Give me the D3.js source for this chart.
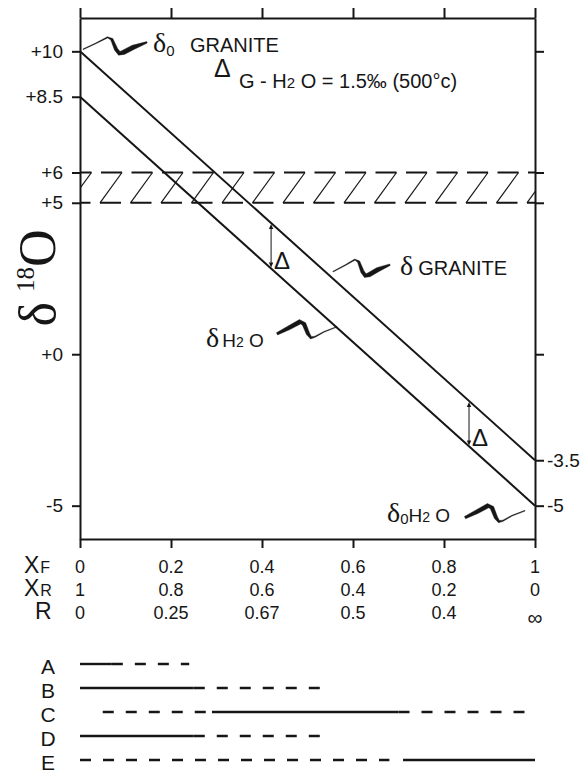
<!DOCTYPE html>
<html>
<head>
<meta charset="utf-8">
<style>
  body { margin: 0; background: #fff; }
  text { font-family: "Liberation Sans", Arial, sans-serif; fill: #161616; }
  .serif { font-family: "Liberation Serif", "Times New Roman", serif; }
</style>
</head>
<body>
<svg width="583" height="774"></svg>
<script src="https://cdn.jsdelivr.net/npm/d3@7"></script>
<script>
// values
var xTicks = [0, 0.2, 0.4, 0.6, 0.8, 1];
var xfLabels = ["0", "0.2", "0.4", "0.6", "0.8", "1"];
var xrLabels = ["1", "0.8", "0.6", "0.4", "0.2", "0"];
var rLabels = ["0", "0.25", "0.67", "0.5", "0.4", "∞"];
var leftTicks = [10, 8.5, 6, 5, 0, -5];
var leftLabels = ["+10", "+8.5", "+6", "+5", "+0", "-5"];
var rightTicks = [10, 6, 5, 0, -3.5, -5];
var rightLabels = ["", "", "", "", "-3.5", "-5"];
var granite = [[0, 10], [1, -3.5]];
var water = [[0, 8.5], [1, -5]];
var band = [5, 6];
var deltaAt = [0.42, 0.855];
var legendNames = ["A", "B", "C", "D", "E"];
var legendSolid = [[[0, 0.07]], [[0, 0.25]], [[0.29, 0.7]], [[0, 0.25]], [[0.71, 1]]];
var legendDash = [[[0.07, 0.24]], [[0.25, 0.54]], [[0.05, 0.29], [0.7, 1]], [[0.25, 0.53]], [[0, 0.68]]];

var svg = d3.select("svg");
var ink = "#161616";

var x = d3.scaleLinear().domain([0, 1]).range([80, 535]);
var y = d3.scaleLinear().domain([-6.1, 11.1]).range([539, 18]);

// value of a straight line at xv
function at(line, xv) {
  return d3.interpolateNumber(line[0][1], line[1][1])((xv - line[0][0]) / (line[1][0] - line[0][0]));
}

svg.append("clipPath").attr("id", "frame")
  .append("rect")
  .attr("x", x(0)).attr("y", y.range()[1])
  .attr("width", x(1) - x(0)).attr("height", y.range()[0] - y.range()[1]);

// hatched band between +5 and +6 (Z shapes)
var hatch = svg.append("g")
  .attr("clip-path", "url(#frame)")
  .attr("fill", "none")
  .attr("stroke", ink);
var step = 30.5, lean = 22, bar = 21, first = x(0) + 20;
var zs = d3.range(-1, 15);
hatch.selectAll("path.bar")
  .data(zs)
  .enter().append("path")
  .attr("class", "bar")
  .attr("stroke-width", 2)
  .attr("d", function(i) {
    var b = first + i * step;
    return "M" + (b + lean - bar) + "," + y(band[1]) + "H" + (b + lean) +
      "M" + b + "," + y(band[0]) + "H" + (b + bar);
  });
hatch.selectAll("path.diag")
  .data(zs)
  .enter().append("path")
  .attr("class", "diag")
  .attr("stroke-width", 1.2)
  .attr("d", function(i) {
    var b = first + i * step;
    return "M" + (b + lean) + "," + y(band[1]) + "L" + b + "," + y(band[0]);
  });

// the two lines
var line = d3.line()
  .x(function(d) { return x(d[0]); })
  .y(function(d) { return y(d[1]); });

[granite, water].forEach(function(s) {
  svg.append("path")
    .datum(s)
    .attr("fill", "none")
    .attr("stroke", ink)
    .attr("stroke-width", 2)
    .attr("d", line);
});

// axes
function styleAxis(g) {
  g.selectAll(".domain").attr("stroke", ink).attr("stroke-width", 2);
  g.selectAll(".tick line").attr("stroke", ink).attr("stroke-width", 2);
  g.selectAll(".tick text").attr("fill", ink).attr("font-size", 19)
    .attr("font-family", "Liberation Sans, Arial, sans-serif");
}

svg.append("g")
  .attr("transform", "translate(0," + y.range()[1] + ")")
  .call(d3.axisTop(x).tickValues(xTicks).tickSize(10).tickSizeOuter(0).tickFormat(function() { return ""; }))
  .call(styleAxis);

svg.append("g")
  .attr("transform", "translate(0," + y.range()[0] + ")")
  .call(d3.axisBottom(x).tickValues(xTicks).tickSize(9).tickSizeOuter(0).tickFormat(function() { return ""; }))
  .call(styleAxis);

svg.append("g")
  .attr("transform", "translate(" + x(0) + ",0)")
  .call(d3.axisLeft(y).tickValues(leftTicks).tickSize(8).tickSizeOuter(0).tickPadding(9)
    .tickFormat(function(d, i) { return leftLabels[i]; }))
  .call(styleAxis);

svg.append("g")
  .attr("transform", "translate(" + x(1) + ",0)")
  .call(d3.axisRight(y).tickValues(rightTicks).tickSize(9).tickSizeOuter(0).tickPadding(3)
    .tickFormat(function(d, i) { return rightLabels[i]; }))
  .call(styleAxis);

// y title
var yt = svg.append("text")
  .attr("class", "serif")
  .attr("transform", "translate(55,278) rotate(-90)")
  .attr("text-anchor", "middle")
  .attr("font-size", 52);
yt.append("tspan").text("δ");
yt.append("tspan").attr("font-size", 25).attr("dx", 10).attr("dy", -21).text("18");
yt.append("tspan").attr("dy", 21).text("O");

// three rows under the x axis
var rows = [
  { main: "X", sub: "F", labels: xfLabels, base: 573 },
  { main: "X", sub: "R", labels: xrLabels, base: 596 },
  { main: "R", sub: "", labels: rLabels, base: 619 }
];
rows.forEach(function(r) {
  var t = svg.append("text").attr("x", r.sub ? 24 : 35).attr("y", r.base).attr("font-size", 23);
  t.append("tspan").text(r.main);
  if (r.sub) t.append("tspan").attr("font-size", 16).attr("dx", 1).text(r.sub);
  svg.append("g").selectAll("text")
    .data(r.labels)
    .enter().append("text")
    .attr("x", function(d, i) { return x(xTicks[i]); })
    .attr("y", function(d) { return d === "∞" ? r.base + 6 : r.base; })
    .attr("text-anchor", "middle")
    .attr("font-size", function(d) { return d === "∞" ? 21 : 18; })
    .text(function(d) { return d; });
});

// delta arrows between the lines
deltaAt.forEach(function(xv) {
  var px = x(xv), top = y(at(granite, xv)) + 1, bot = y(at(water, xv)) - 1;
  svg.append("line")
    .attr("x1", px).attr("x2", px).attr("y1", top + 3).attr("y2", bot - 3)
    .attr("stroke", ink).attr("stroke-width", 1);
  svg.append("path")
    .attr("d", "M" + px + "," + top + "l-2.2,5h4.4z M" + px + "," + bot + "l-2.2,-5h4.4z")
    .attr("fill", ink);
  svg.append("text")
    .attr("x", px + 3).attr("y", bot + 1)
    .attr("font-size", 24)
    .text("Δ");
});

// squiggly leaders, drawn as a brush stroke of varying width
var squigPts = [[0, 0], [12, -6], [23, -12], [27, -10], [31, 0], [34, 4], [38, 3], [47, -2], [60, -7]];
function squiggle(x0, y0, w, thickStart) {
  var k = w / 60;
  var pts = squigPts.map(function(d) { return [x0 + d[0] * k, y0 + d[1]]; });
  var wid = thickStart
    ? [2.5, 4, 4.5, 4, 3.5, 2.5, 1.2, 0.8, 0.7]
    : [0.7, 0.8, 1.2, 2.5, 3.5, 4, 4.5, 4.5, 1.5];
  var left = [], right = [];
  pts.forEach(function(p, i) {
    var a = pts[Math.max(i - 1, 0)], b = pts[Math.min(i + 1, pts.length - 1)];
    var dx = b[0] - a[0], dy = b[1] - a[1], len = Math.sqrt(dx * dx + dy * dy);
    var nx = -dy / len * wid[i] / 2, ny = dx / len * wid[i] / 2;
    left.push([p[0] + nx, p[1] + ny]);
    right.push([p[0] - nx, p[1] - ny]);
  });
  svg.append("path")
    .attr("d", "M" + left.concat(right.reverse()).join("L") + "Z")
    .attr("fill", ink)
    .attr("stroke", ink)
    .attr("stroke-width", 0.4)
    .attr("stroke-linejoin", "round");
}

// δ0 granite
squiggle(x(0) + 3, y(granite[0][1]) - 2, 64, false);
var t1 = svg.append("text").attr("x", 153).attr("y", 52);
t1.append("tspan").attr("class", "serif").attr("font-size", 28).text("δ");
t1.append("tspan").attr("font-size", 15).attr("dy", 4).text("0");
t1.append("tspan").attr("x", 190).attr("dy", -4).attr("font-size", 20).text("GRANITE");

// fractionation note
svg.append("text").attr("x", 214).attr("y", 77).attr("font-size", 25).text("Δ");
var t2 = svg.append("text").attr("x", 239).attr("y", 88).attr("font-size", 20);
t2.append("tspan").text("G - H");
t2.append("tspan").attr("font-size", 15).text("2");
t2.append("tspan").text(" O = 1.5‰  (500°c)");

// δ granite
squiggle(x(0.556), y(at(granite, 0.556)) - 7, 57, false);
var t3 = svg.append("text").attr("x", 400).attr("y", 275);
t3.append("tspan").attr("class", "serif").attr("font-size", 28).text("δ");
t3.append("tspan").attr("dx", 5).attr("font-size", 20).text("GRANITE");

// δ H2O
squiggle(277, y(at(water, 0.565)) + 6, 60, true);
var t4 = svg.append("text").attr("x", 206).attr("y", 347);
t4.append("tspan").attr("class", "serif").attr("font-size", 28).text("δ");
t4.append("tspan").attr("dx", 3).attr("font-size", 19).text("H");
t4.append("tspan").attr("font-size", 14).text("2");
t4.append("tspan").attr("font-size", 19).text(" O");

// δ0 H2O
squiggle(465, y(water[1][1]) + 12, 60, true);
var t5 = svg.append("text").attr("x", 387).attr("y", 522);
t5.append("tspan").attr("class", "serif").attr("font-size", 28).text("δ");
t5.append("tspan").attr("font-size", 15).attr("dy", 2).text("0");
t5.append("tspan").attr("font-size", 19).attr("dy", -2).text("H");
t5.append("tspan").attr("font-size", 14).text("2");
t5.append("tspan").attr("font-size", 19).text(" O");

// A-E range bars
var legendY = d3.scalePoint().domain(legendNames).range([664, 760]);
var leg = svg.append("g");
legendNames.forEach(function(name, i) {
  var ly = legendY(name);
  leg.append("text")
    .attr("x", 48).attr("y", ly + 10)
    .attr("text-anchor", "middle")
    .attr("font-size", 21)
    .text(name);
  legendSolid[i].forEach(function(s) {
    leg.append("line")
      .attr("x1", x(s[0])).attr("x2", x(s[1]))
      .attr("y1", ly).attr("y2", ly)
      .attr("stroke", ink).attr("stroke-width", 2.4);
  });
  legendDash[i].forEach(function(s) {
    leg.append("line")
      .attr("x1", x(s[0])).attr("x2", x(s[1]))
      .attr("y1", ly).attr("y2", ly)
      .attr("stroke", ink).attr("stroke-width", 2.4)
      .attr("stroke-dasharray", "11,12");
  });
});
</script>
</body>
</html>
